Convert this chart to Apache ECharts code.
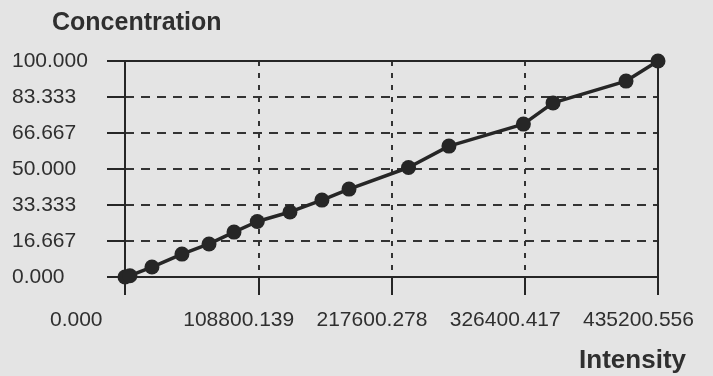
<!DOCTYPE html>
<html>
<head>
<meta charset="utf-8">
<title>Calibration curve</title>
<script src="https://cdn.jsdelivr.net/npm/echarts@6/dist/echarts.min.js"></script>
<style>
  html, body { margin: 0; padding: 0; background: #e4e4e4; }
  #chart { width: 713px; height: 376px; }
</style>
</head>
<body>
<div id="chart"></div>
<script>
// Calibration standards: measured intensity vs. concentration
const intensity = [0, 4000, 22000, 46500, 68600, 89000, 108000, 134700, 160800,
                   182900, 231500, 264500, 325300, 349500, 409100, 435200.556];
const concentration = [0, 0.6, 4.6, 10.6, 15.3, 20.8, 25.7, 30.1, 35.6,
                       40.7, 50.7, 60.6, 70.8, 80.6, 90.7, 100];

// Axis tick labels
const xTickLabels = ['0.000', '108800.139', '217600.278', '326400.417', '435200.556'];
const yTickLabels = ['0.000', '16.667', '33.333', '50.000', '66.667', '83.333', '100.000'];

const xMax = 435200.556;
const xStep = 108800.139;
const yMax = 100;
const yStep = 100 / 6;

const ink = '#262626';
const textInk = '#2f2f2f';
const labelFont = "'Liberation Sans', Arial, sans-serif";
const titleFont = "'Liberation Sans', Arial, sans-serif";

const points = intensity.map((x, i) => [x, concentration[i]]);

const chart = echarts.init(document.getElementById('chart'));
chart.setOption({
  backgroundColor: '#e4e4e4',
  animation: false,
  title: [
    {
      text: 'Concentration',
      left: 47, top: 6,
      textStyle: { fontFamily: titleFont, fontWeight: 'bold', fontSize: 25, color: textInk }
    },
    {
      text: 'Intensity',
      right: 22, top: 343,
      textStyle: { fontFamily: titleFont, fontWeight: 'bold', fontSize: 26, color: textInk }
    }
  ],
  grid: { left: 125, top: 61, right: 55, bottom: 99, outerBoundsMode: 'none', containLabel: false },
  xAxis: [
    {
      type: 'value',
      min: 0, max: xMax, interval: xStep,
      position: 'bottom',
      axisLine: { show: true, onZero: false, lineStyle: { color: ink, width: 2 } },
      axisTick: { show: true, inside: false, length: 18, lineStyle: { color: ink, width: 2 } },
      splitLine: { show: true, lineStyle: { color: '#333', width: 2, type: [5, 7] } },
      axisLabel: {
        show: true,
        // each label starts 75px left of its tick
        align: 'right',
        margin: 31,
        hideOverlap: false,
        showMinLabel: true, showMaxLabel: true,
        formatter: (v, i) => '{t|' + xTickLabels[i] + '}',
        rich: {
          t: { width: 75, align: 'left', fontFamily: labelFont, fontSize: 21, lineHeight: 24, color: textInk }
        }
      }
    },
    {
      type: 'value',
      min: 0, max: xMax, interval: xStep,
      position: 'top',
      axisLine: { show: true, onZero: false, lineStyle: { color: ink, width: 2 } },
      axisTick: { show: false },
      axisLabel: { show: false },
      splitLine: { show: false }
    }
  ],
  yAxis: [
    {
      type: 'value',
      min: 0, max: yMax, interval: yStep,
      position: 'left',
      axisLine: { show: true, onZero: false, lineStyle: { color: ink, width: 2 } },
      axisTick: { show: true, inside: false, length: 18, lineStyle: { color: ink, width: 2 } },
      splitLine: { show: true, lineStyle: { color: '#333', width: 2, type: [9, 7] } },
      axisLabel: {
        show: true,
        align: 'left',
        margin: 113,
        hideOverlap: false,
        showMinLabel: true, showMaxLabel: true,
        fontFamily: labelFont, fontSize: 21, color: textInk,
        formatter: (v, i) => yTickLabels[i]
      }
    },
    {
      type: 'value',
      min: 0, max: yMax, interval: yStep,
      position: 'right',
      axisLine: { show: true, onZero: false, lineStyle: { color: ink, width: 2 } },
      axisTick: { show: false },
      axisLabel: { show: false },
      splitLine: { show: false }
    }
  ],
  series: [
    {
      type: 'line',
      xAxisIndex: 0,
      yAxisIndex: 0,
      data: points,
      symbol: 'circle',
      symbolSize: 15,
      showAllSymbol: true,
      clip: false,
      itemStyle: { color: ink },
      lineStyle: { color: ink, width: 3.5 },
      z: 5
    }
  ]
});
</script>
</body>
</html>
